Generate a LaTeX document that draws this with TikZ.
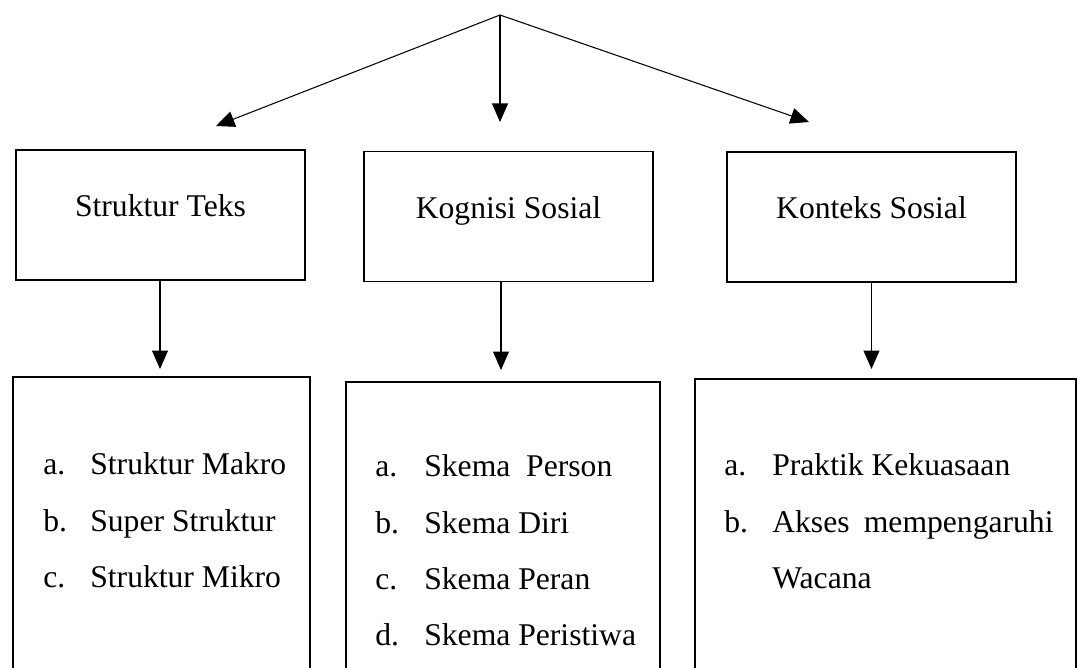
\documentclass[tikz,border=0pt]{standalone}
\usepackage{fontspec}
\setmainfont{Liberation Serif}
\usetikzlibrary{arrows.meta}
\tikzset{
  headbox/.style={draw, line width=1.1pt, minimum width=5.78cm, minimum height=2.6cm, inner sep=0pt, text height=12pt, text depth=10pt},
  listbox/.style={draw, line width=1.1pt, anchor=north west, minimum height=7cm, inner sep=0pt},
  listtext/.style={anchor=base west, inner sep=0pt},
  linkarrow/.style={-{Triangle[length=0.37cm,width=0.32cm]}, line width=0.6pt}
}
\begin{document}
\begin{tikzpicture}[x=0.02cm, y=-0.02cm, font=\fontsize{18}{31.9}\selectfont]
    \clip (0,0) rectangle (1078,668);

    % Top branching arrows
    \coordinate (root) at (500,15);
    \coordinate (tipteks) at (216,126);
    \coordinate (tipkog) at (500,122);
    \coordinate (tipkon) at (809,122);
    \draw[linkarrow] (root) -- (tipteks);
    \draw[linkarrow] (root) -- (tipkog);
    \draw[linkarrow] (root) -- (tipkon);

    % Three dimensions
    \node[headbox] (teks) at (160.5,215) {Struktur Teks};
    \node[headbox] (kognisi) at (508.5,216.5) {Kognisi Sosial};
    \node[headbox] (konteks) at (871.5,217) {Konteks Sosial};

    % Arrows down to the lists
    \coordinate (downteks) at (160,369);
    \coordinate (downkog) at (501,370);
    \coordinate (downkon) at (871.5,369);
    \draw[linkarrow] (teks.south -| downteks) -- (downteks);
    \draw[linkarrow] (kognisi.south -| downkog) -- (downkog);
    \draw[linkarrow] (konteks.south -| downkon) -- (downkon);

    % List boxes
    \node[listbox, minimum width=5.94cm] (listteks) at (12,376) {};
    \node[listbox, minimum width=6.28cm] (listkog) at (345,381) {};
    \node[listbox, minimum width=7.62cm] (listkon) at (694,378.5) {};

    % List items
    \node[listtext] (itemteks) at (43,475) {\begin{tabular}[t]{@{}p{0.94cm}@{}l@{}}
        a. & Struktur Makro\\
        b. & Super Struktur\\
        c. & Struktur Mikro
    \end{tabular}};
    \node[listtext] (itemkog) at (375,477) {\begin{tabular}[t]{@{}p{0.98cm}@{}l@{}}
        a. & Skema~ Person\\
        b. & Skema Diri\\
        c. & Skema Peran\\
        d. & Skema Peristiwa
    \end{tabular}};
    \node[listtext] (itemkon) at (724,476) {\begin{tabular}[t]{@{}p{0.96cm}@{}l@{}}
        a. & Praktik Kekuasaan\\
        b. & Akses\hspace{0.45em}mempengaruhi\\
           & Wacana
    \end{tabular}};
\end{tikzpicture}
\end{document}
